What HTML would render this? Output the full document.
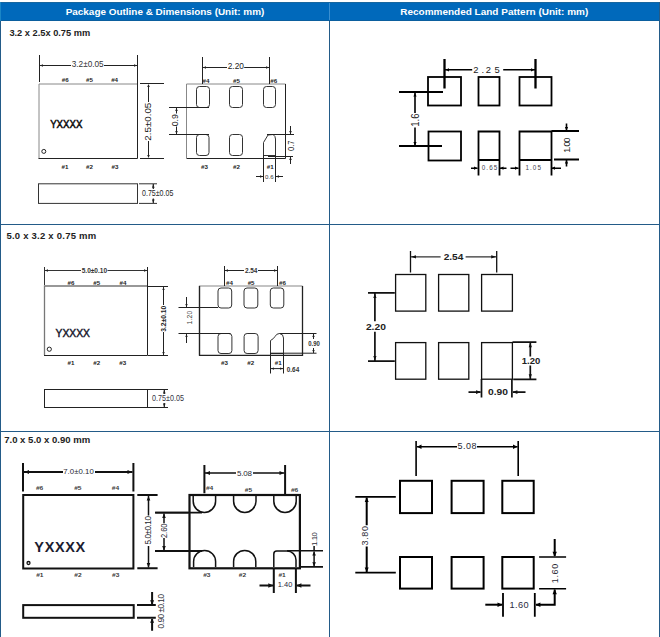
<!DOCTYPE html>
<html><head><meta charset="utf-8">
<style>
html,body{margin:0;padding:0;background:#fff;}
body{width:660px;height:637px;overflow:hidden;position:relative;font-family:"Liberation Sans",sans-serif;}
svg{position:absolute;left:0;top:0;}
.hd{font-family:"Liberation Sans",sans-serif;font-weight:bold;font-size:9.5px;fill:#fff;}
.ttl{font-family:"Liberation Sans",sans-serif;font-weight:bold;font-size:9.5px;fill:#222;}
.t{font-family:"Liberation Sans",sans-serif;font-size:8px;fill:#333;}
.s{font-family:"Liberation Sans",sans-serif;font-size:6.2px;font-weight:bold;fill:#222;}
</style></head><body>
<svg width="660" height="637" viewBox="0 0 660 637">
<!-- table frame -->
<rect x="0" y="2" width="660" height="19" fill="#0069bb"/>
<rect x="0" y="2" width="660" height="1" fill="#1767a0"/>
<rect x="0" y="20" width="660" height="1" fill="#0b5f9e"/>
<g stroke="#235b88" stroke-width="1" fill="none">
<line x1="0.5" y1="21" x2="0.5" y2="637"/>
<line x1="0.5" y1="2" x2="0.5" y2="21" stroke="#1b86c6"/>
<line x1="659.5" y1="2" x2="659.5" y2="637"/>
<line x1="329.5" y1="21" x2="329.5" y2="637"/>
<line x1="0" y1="224.5" x2="660" y2="224.5"/>
<line x1="0" y1="431.5" x2="660" y2="431.5"/>
</g>
<line x1="329.5" y1="3" x2="329.5" y2="20" stroke="#3b8fd0" stroke-width="1"/>
<text class="hd" x="165" y="14.8" text-anchor="middle" textLength="198.6" lengthAdjust="spacingAndGlyphs">Package Outline &amp; Dimensions (Unit: mm)</text>
<text class="hd" x="494.3" y="14.8" text-anchor="middle" textLength="188" lengthAdjust="spacingAndGlyphs">Recommended Land Pattern (Unit: mm)</text>

<text class="ttl" x="9.4" y="36" textLength="80.8" lengthAdjust="spacingAndGlyphs">3.2 x 2.5x 0.75 mm</text>
<text class="ttl" x="6.4" y="239" textLength="89.8" lengthAdjust="spacing">5.0 x 3.2 x 0.75 mm</text>
<text class="ttl" x="4.2" y="443" textLength="86" lengthAdjust="spacingAndGlyphs">7.0 x 5.0 x 0.90 mm</text>

<!-- ===== Row 1 left ===== -->
<g fill="none" stroke-width="1">
<path d="M137.5 84H39V158.5" stroke="#888"/>
<path d="M38.5 158.5H137.5V55" stroke="#222"/>
<path d="M39.5 55V82" stroke="#222"/>
<path d="M40 65.5H71M104 65.5H137" stroke="#222"/>
<path d="M140 83.5H164M140 158.5H164" stroke="#222"/>
<path d="M148.5 85V102M148.5 141V157" stroke="#222"/>
<circle cx="43.8" cy="151.4" r="2" stroke="#222"/>
</g>
<g fill="#222">
<path d="M40 65.5l3 -1.3v2.6z M137 65.5l-3 -1.3v2.6z M148.5 84l-1.3 3h2.6z M148.5 158l-1.3 -3h2.6z"/>
</g>
<text class="t" x="87.7" y="66.8" text-anchor="middle" style="font-size:9px" textLength="32" lengthAdjust="spacingAndGlyphs">3.2±0.05</text>
<text class="t" transform="translate(151.2 121.7) rotate(-90)" text-anchor="middle" style="font-size:9.4px;fill:#222" textLength="38" lengthAdjust="spacingAndGlyphs">2.5±0.05</text>
<text x="66.3" y="127.6" text-anchor="middle" style="font-size:10.3px;fill:#111;stroke:#111;stroke-width:0.5;font-family:'Liberation Sans'" textLength="32.3" lengthAdjust="spacingAndGlyphs">YXXXX</text>
<g class="s" text-anchor="middle">
<text x="65.3" y="82.1">#6</text><text x="89.4" y="82.1">#5</text><text x="114.6" y="82.1">#4</text>
<text x="65" y="168.8">#1</text><text x="89.4" y="168.8">#2</text><text x="114.9" y="168.8">#3</text>
</g>
<!-- side view -->
<g fill="none" stroke-width="1">
<rect x="38.5" y="183.8" width="99" height="19.6" stroke="#333"/>
<path d="M139 183.8H157M139 203.4H157" stroke="#333"/>
<path d="M153.3 184V189M153.3 198.5V203" stroke="#222" stroke-width="1.2"/>
</g>
<path d="M153.3 184.2l-1.3 3.5h2.6z M153.3 203l-1.3 -3.5h2.6z" fill="#222"/>
<text class="t" x="157.7" y="196" text-anchor="middle" style="font-size:8.2px;fill:#1e1e1e" textLength="31.2" lengthAdjust="spacingAndGlyphs">0.75±0.05</text>

<!-- ===== Row 1 pad view ===== -->
<g fill="none" stroke-width="1">
<path d="M186.5 158V84H285.5" stroke="#888"/>
<path d="M186.5 158.5H285.5V84" stroke="#222"/>
<path d="M202.5 57V84M269.5 57V84" stroke="#222"/>
<path d="M203 67.5H227M244.2 67.5H269" stroke="#222"/>
<rect x="196.5" y="86.5" width="13" height="21" rx="3" stroke="#333"/>
<rect x="229.5" y="86.5" width="13" height="21" rx="3" stroke="#333"/>
<rect x="263.5" y="86.5" width="12" height="21" rx="3" stroke="#333"/>
<rect x="196.5" y="134.5" width="12.5" height="21" rx="3" stroke="#333"/>
<rect x="229.5" y="134.5" width="13" height="21" rx="3" stroke="#333"/>
<path d="M263.5 155.5V142.5L268 135L273 134.5Q275.5 136 275.5 139V155.5Z" stroke="#333"/>
<path d="M169 107.5H209M169 134.5H209" stroke="#222"/>
<path d="M176.5 108V113.5M176.5 126.5V134" stroke="#222"/>
<path d="M267 134.5H294M268 156.5H293" stroke="#222"/>
<path d="M290.5 126V134M290.5 157V164" stroke="#222"/>
<path d="M263.5 155V182M275.5 155V182" stroke="#222"/>
<path d="M256 176.5H263M276 176.5H283" stroke="#222"/>
</g>
<g fill="#222">
<path d="M203 67.5l3 -1.3v2.6z M269 67.5l-3 -1.3v2.6z"/>
<path d="M176.5 108l-1.3 3h2.6z M176.5 134l-1.3 -3h2.6z"/>
<path d="M290.5 134l-1.3 -3h2.6z M290.5 157l-1.3 3h2.6z"/>
<path d="M263 176.5l-3 -1.3v2.6z M276 176.5l3 -1.3v2.6z"/>
</g>
<text class="t" x="235.8" y="68.9" text-anchor="middle" style="font-size:9.7px;fill:#1a1a1a" textLength="16.2" lengthAdjust="spacingAndGlyphs">2.20</text>
<text class="t" transform="translate(178.4 120.3) rotate(-90)" text-anchor="middle" style="font-size:8.2px;fill:#222" textLength="12" lengthAdjust="spacingAndGlyphs">0.9</text>
<text class="t" transform="translate(294.3 145.8) rotate(-90)" text-anchor="middle" style="font-size:8.2px;fill:#222" textLength="10.5" lengthAdjust="spacingAndGlyphs">0.7</text>
<text class="t" x="269.3" y="178.8" text-anchor="middle" style="font-size:6px" textLength="8.5" lengthAdjust="spacingAndGlyphs">0.6</text>
<g class="s" text-anchor="middle">
<text x="206" y="82.5">#4</text><text x="236.5" y="82.5">#5</text><text x="273.8" y="82.5">#6</text>
<text x="204.4" y="168.5">#3</text><text x="236.5" y="168.5">#2</text><text x="270.3" y="168.8">#1</text>
</g>

<!-- ===== Row 1 right ===== -->
<g fill="none" stroke="#000" stroke-width="1.8">
<rect x="428" y="77" width="33" height="28.5"/>
<rect x="478.5" y="77" width="21" height="28.5"/>
<rect x="519.5" y="77" width="32" height="28.5"/>
<rect x="428.5" y="131.5" width="32.5" height="29"/>
<path d="M478.5 175.5V131.5H499.5V175.5M478.5 160H499.5"/>
<path d="M519.5 175.5V131.5H551.5V175.5M519.5 160H551.5"/>
<path d="M444.5 59V88.6M535.5 59V88.6" stroke-width="2.3"/>
<path d="M399 92H443M399 146H442"/>
<path d="M551.5 131H579M554 159.5H579"/>
</g>
<g fill="none" stroke="#000" stroke-width="1.6">
<path d="M445 69.8H472.2M503.2 69.8H535"/>
<path d="M415 92.5V113M415 127.5V146"/>
<path d="M566.5 123.5V130M566.5 160V166.5"/>
<path d="M471 168.2H477.5M500 168.2H506.5M510.5 168.2H518.5M551.5 168.2H561"/>
</g>
<g fill="#000">
<path d="M445.5 69.8l3.5 -1.6v3.2z M534.5 69.8l-3.5 -1.6v3.2z"/>
<path d="M415 93l-1.6 3.5h3.2z M415 145.5l-1.6 -3.5h3.2z"/>
<path d="M566.5 130.5l-1.6 -3.5h3.2z M566.5 160l-1.6 3.5h3.2z"/>
<path d="M477.5 168.2l-3.5 -1.6v3.2z M500 168.2l3.5 -1.6v3.2z M518.5 168.2l-3.5 -1.6v3.2z M551.5 168.2l3.5 -1.6v3.2z"/>
</g>
<text class="t" x="473.2 481.6 485.8 494.6" y="73" style="font-size:9.4px;fill:#1a1a1a">2.25</text>
<text class="t" transform="translate(419.2 120.1) rotate(-90)" text-anchor="middle" style="font-size:10.3px;fill:#1a1a1a" textLength="13.2" lengthAdjust="spacingAndGlyphs">1.6</text>
<text class="t" transform="translate(570.4 152) rotate(-90)" x="-0.8 3.1 5.6 9.5" style="font-size:8.7px;fill:#1a1a1a">1.00</text>
<text class="t" x="489.5" y="169.6" text-anchor="middle" style="font-size:6.3px;fill:#44444f" textLength="15.5" lengthAdjust="spacing">0.65</text>
<text class="t" x="533.2" y="169.6" text-anchor="middle" style="font-size:6.3px;fill:#44444f" textLength="15.4" lengthAdjust="spacing">1.05</text>

<!-- ===== Row 2 left ===== -->
<g fill="none" stroke-width="1">
<path d="M147 286H44.5V355" stroke="#777" stroke-width="1.3"/>
<path d="M44 355.5H147.5V267" stroke="#222"/>
<path d="M44.5 267V285" stroke="#333"/>
<path d="M45 270.5H81M107.5 270.5H147" stroke="#333"/>
<path d="M148 286.5H168M148 355.5H168" stroke="#222"/>
<path d="M163.5 287V305M163.5 332V355" stroke="#222"/>
<circle cx="49.3" cy="349.2" r="2.1" stroke="#222"/>
</g>
<g fill="#222">
<path d="M45 270.5l3 -1.2v2.4z M147 270.5l-3 -1.2v2.4z M163.5 287l-1.2 3h2.4z M163.5 355l-1.2 -3h2.4z"/>
</g>
<text x="94.4" y="272.9" text-anchor="middle" style="font-size:6.3px;font-weight:bold;fill:#333;font-family:'Liberation Sans'" textLength="25.4" lengthAdjust="spacingAndGlyphs">5.0±0.10</text>
<text transform="translate(166.4 318.8) rotate(-90)" text-anchor="middle" style="font-size:6.3px;font-weight:bold;fill:#222;font-family:'Liberation Sans'" textLength="26" lengthAdjust="spacingAndGlyphs">3.2±0.10</text>
<text x="72.7" y="336.7" text-anchor="middle" style="font-size:10.5px;fill:#141428;stroke:#141428;stroke-width:0.45;font-family:'Liberation Sans'" textLength="34.4" lengthAdjust="spacingAndGlyphs">YXXXX</text>
<g class="s2" text-anchor="middle" style="font-size:6.2px;font-weight:bold;fill:#222;font-family:'Liberation Sans'">
<text x="71" y="284.7">#6</text><text x="96.8" y="284.7">#5</text><text x="123" y="284.7">#4</text>
<text x="71" y="364.5">#1</text><text x="96.8" y="364.5">#2</text><text x="122.8" y="364.5">#3</text>
</g>
<g fill="none" stroke-width="1">
<rect x="44.5" y="389.5" width="103" height="18" stroke="#222"/>
<path d="M148 389.5H168M148 407.5H168" stroke="#222"/>
<path d="M164.3 390V394M164.3 403V407" stroke="#222" stroke-width="1.2"/>
</g>
<path d="M164.3 390l-1.3 3.5h2.6z M164.3 407l-1.3 -3.5h2.6z" fill="#222"/>
<text class="t" x="168" y="400.9" text-anchor="middle" style="font-size:8.2px;fill:#33333f" textLength="31.8" lengthAdjust="spacingAndGlyphs">0.75±0.05</text>

<!-- ===== Row 2 pad view ===== -->
<g fill="none" stroke-width="1">
<path d="M199.5 355V286H302.5" stroke="#888" stroke-width="1.2"/>
<path d="M199.5 286V355.3H302.5V286" stroke="#222" stroke-width="1.3"/>
<path d="M224.5 266V286M277.5 266V286" stroke="#222"/>
<path d="M225 270.5H244M258 270.5H277" stroke="#222"/>
<rect x="218" y="288" width="13.7" height="20" rx="3" stroke="#333"/>
<rect x="244" y="288" width="13.8" height="20" rx="3" stroke="#333"/>
<rect x="270.3" y="288" width="13.5" height="20" rx="3" stroke="#333"/>
<rect x="218" y="333.5" width="13.9" height="20" rx="3" stroke="#333"/>
<rect x="244.1" y="333.5" width="14" height="20" rx="3" stroke="#333"/>
<path d="M270.5 353.5V340.5Q273.5 339 275 336.5Q276.5 333.5 279.5 333.5Q283.5 334 283.5 338V353.5Z" stroke="#333"/>
<path d="M178.5 307.5H218M178.5 333.5H230.5" stroke="#222"/>
<path d="M186.5 297V307M186.5 334V343" stroke="#222"/>
<path d="M279.5 333.5H316.5M270 353.2H316.5" stroke="#222"/>
<path d="M313.5 334V339M313.5 348V353" stroke="#222"/>
<path d="M270.5 353V373.5M283.5 353V373.5" stroke="#222"/>
<path d="M271 368.6H283" stroke="#222"/>
</g>
<g fill="#222">
<path d="M225 270.5l3 -1.2v2.4z M277 270.5l-3 -1.2v2.4z"/>
<path d="M186.5 307l-1.2 -3h2.4z M186.5 334l-1.2 3h2.4z"/>
<path d="M313.5 334l-1.2 3h2.4z M313.5 353l-1.2 -3h2.4z"/>
<path d="M271 368.6l3 -1.2v2.4z M283 368.6l-3 -1.2v2.4z"/>
</g>
<text x="251.2" y="272.8" text-anchor="middle" style="font-size:6.3px;font-weight:bold;fill:#333;font-family:'Liberation Sans'" textLength="12.5" lengthAdjust="spacingAndGlyphs">2.54</text>
<text class="t" transform="translate(191.6 317.7) rotate(-90)" text-anchor="middle" style="font-size:6.8px;fill:#3a3a3a" textLength="13.8" lengthAdjust="spacing">1.20</text>
<text x="314.1" y="345.9" text-anchor="middle" style="font-size:6.3px;font-weight:bold;fill:#333;font-family:'Liberation Sans'" textLength="11.6" lengthAdjust="spacingAndGlyphs">0.90</text>
<text x="293" y="371.9" text-anchor="middle" style="font-size:6.8px;font-weight:bold;fill:#333;font-family:'Liberation Sans'" textLength="12.4" lengthAdjust="spacingAndGlyphs">0.64</text>
<g text-anchor="middle" style="font-size:6.2px;font-weight:bold;fill:#222;font-family:'Liberation Sans'">
<text x="229.4" y="285.3">#4</text><text x="251.1" y="285.3">#5</text><text x="282.5" y="285.3">#6</text>
<text x="224.5" y="364.6">#3</text><text x="250.7" y="364.6">#2</text><text x="278.2" y="364.6">#1</text>
</g>

<!-- ===== Row 2 right ===== -->
<g fill="none" stroke="#111" stroke-width="1.3">
<rect x="395.6" y="274.5" width="30.2" height="36.6"/>
<rect x="438.6" y="274.5" width="30.2" height="36.6"/>
<rect x="481.6" y="274.5" width="30.8" height="36.6"/>
<rect x="395.6" y="342.6" width="30.2" height="36.6"/>
<rect x="438.6" y="342.6" width="30.2" height="36.6"/>
<rect x="481.6" y="342.6" width="30.8" height="36.6"/>
<path d="M410.5 251V272.5M496.7 251V272.5"/>
</g>
<g fill="none" stroke="#111" stroke-width="1.7">
<path d="M368 292.9H394.8M368 361.1H394.8"/>
<path d="M374.9 293V321.2M374.9 331.8V361"/>
<path d="M512.5 342.2H536.4M513.2 379.4H536.4"/>
<path d="M530.3 343V356.5M530.3 365.5V379"/>
<path d="M481.5 379V397.5M511.9 379V397.5"/>
<path d="M468.5 392.1H480.5M513 392.1H525.5"/>
</g>
<g fill="none" stroke="#333" stroke-width="1.2">
<path d="M411 256.8H440.6M465.6 256.8H496"/>
</g>
<g fill="#111">
<path d="M411 256.8l5 -1.6v3.2z M496.2 256.8l-5 -1.6v3.2z"/>
<path d="M374.9 293.5l-1.6 4.5h3.2z M374.9 360.5l-1.6 -4.5h3.2z"/>
<path d="M530.3 342.8l-1.6 4.5h3.2z M530.3 378.8l-1.6 -4.5h3.2z"/>
<path d="M481 392.1l-5 -1.8v3.6z M512.4 392.1l5 -1.8v3.6z"/>
</g>
<g style="font-weight:bold;fill:#222;font-family:'Liberation Sans'" text-anchor="middle">
<text x="453.5" y="260.2" style="font-size:8.4px" textLength="19.7" lengthAdjust="spacingAndGlyphs">2.54</text>
<text x="375.9" y="330.1" style="font-size:8.6px" textLength="20" lengthAdjust="spacingAndGlyphs">2.20</text>
<text x="531" y="363.8" style="font-size:8.4px" textLength="18.5" lengthAdjust="spacingAndGlyphs">1.20</text>
<text x="498" y="394.8" style="font-size:8.4px" textLength="20" lengthAdjust="spacingAndGlyphs">0.90</text>
</g>

<!-- ===== Row 3 left ===== -->
<g fill="none" stroke="#111">
<rect x="23.2" y="495" width="110.2" height="73.5" stroke-width="2"/>
<path d="M23 463V491.4M133.4 463V491.4" stroke-width="2"/>
<path d="M137.3 495H157.6M137.3 568.2H157.6" stroke-width="2"/>
<path d="M155.3 512.7H188.7M155.3 551H188.7" stroke-width="1.8"/>
<path d="M24 472H63M95 472H132.5" stroke-width="1.9"/>
<path d="M148.5 496V515.5M148.5 546V567.5" stroke-width="1.5"/>
<path d="M164 513.5V523.2M164 538.1V550.5" stroke-width="1.5"/>
<rect x="23.2" y="605.1" width="110.5" height="12.7" stroke-width="2"/>
<path d="M137 605.1H155.8M137 617.8H155.8" stroke-width="2"/>
<path d="M152.1 592V604M152.1 619V630.7" stroke-width="2"/>
<circle cx="28.5" cy="563" r="1.5" stroke-width="1.3"/>
</g>
<g fill="#111">
<path d="M24.5 472l4.5 -2v4z M132 472l-4.5 -2v4z"/>
<path d="M148.5 496l-1.8 4.5h3.6z M148.5 567.5l-1.8 -4.5h3.6z"/>
<path d="M164 513.5l-1.8 4.5h3.6z M164 550.5l-1.8 -4.5h3.6z"/>
<path d="M152.1 604.8l-2 -4.5h4z M152.1 618.2l-2 4.5h4z"/>
</g>
<text x="78.5" y="474.2" text-anchor="middle" style="font-size:7.8px;fill:#2a2a35;font-family:'Liberation Sans'" textLength="30.6" lengthAdjust="spacing">7.0±0.10</text>
<text transform="translate(150.8 530.2) rotate(-90)" text-anchor="middle" style="font-size:8.2px;fill:#26262e;font-family:'Liberation Sans'" textLength="28.4" lengthAdjust="spacing">5.0±0.10</text>
<text transform="translate(167.2 530.8) rotate(-90)" text-anchor="middle" style="font-size:8.8px;fill:#2a2a36;font-family:'Liberation Sans'" textLength="14.6" lengthAdjust="spacingAndGlyphs">2.60</text>
<text transform="translate(163.6 611.2) rotate(-90)" text-anchor="middle" style="font-size:8.4px;fill:#2e2e3a;font-family:'Liberation Sans'" textLength="34.5" lengthAdjust="spacing">0.90 ±0.10</text>
<text x="59.8" y="552.1" text-anchor="middle" style="font-size:14.5px;font-weight:bold;fill:#1c1c30;font-family:'Liberation Sans'" textLength="50.9" lengthAdjust="spacing">YXXXX</text>
<g text-anchor="middle" style="font-size:6.6px;font-weight:bold;fill:#3a3a3a;font-family:'Liberation Sans'">
<text transform="translate(39.6 489.5) scale(1 0.78)">#6</text><text transform="translate(77.8 489.5) scale(1 0.78)">#5</text><text transform="translate(115.5 489.5) scale(1 0.78)">#4</text>
<text transform="translate(39.8 576.7) scale(1 0.78)">#1</text><text transform="translate(78 576.7) scale(1 0.78)">#2</text><text transform="translate(115.7 576.7) scale(1 0.78)">#3</text>
</g>

<!-- ===== Row 3 pad view ===== -->
<g fill="none" stroke="#111">
<rect x="189.5" y="495" width="110.4" height="73.3" stroke-width="2.2"/>
<path d="M204.4 465V493.3M285.1 465V494" stroke-width="2"/>
<path d="M205 472.9H236M253 472.9H284.5" stroke-width="1.5"/>
<path d="M155 512.7H202M155 551H202" stroke-width="1.8"/>
<path d="M193.2 496V501.2A11.2 11.2 0 0 0 215.6 501.2V496" stroke-width="1.5"/>
<path d="M233.6 496V501.2A11.2 11.2 0 0 0 256 501.2V496" stroke-width="1.5"/>
<path d="M273.8 496V501.2A11.2 11.2 0 0 0 296.2 501.2V496" stroke-width="1.5"/>
<path d="M193.6 567V561.5A11 11 0 0 1 215.6 561.5V567" stroke-width="1.5"/>
<path d="M233.6 567V561.5A11 11 0 0 1 255.8 561.5V567" stroke-width="1.5"/>
<path d="M273.8 567V554A3 3 0 0 1 276.8 551H287A9 9 0 0 1 296 560V567" stroke-width="1.5"/>
<path d="M287 550.8H323M300 566.9H323" stroke-width="1.6"/>
<path d="M314.1 551.5V566.5M314.1 551V546" stroke-width="1.5"/>
<path d="M273.8 569V593.1M295.9 569V593.1" stroke-width="2"/>
<path d="M259.5 585.5H273M296.7 585.5H310.5" stroke-width="2"/>
</g>
<g fill="#111">
<path d="M205.5 472.9l4.5 -2v4z M284 472.9l-4.5 -2v4z"/>
<path d="M314.1 551.5l-1.8 4h3.6z M314.1 566.3l-1.8 -4h3.6z"/>
<path d="M273.3 585.5l-5 -2.2v4.4z M296.4 585.5l5 -2.2v4.4z"/>
</g>
<text x="244.5" y="476" text-anchor="middle" style="font-size:8px;fill:#2a2a35;font-family:'Liberation Sans'" textLength="14.8" lengthAdjust="spacing">5.08</text>
<text transform="translate(317.2 539) rotate(-90)" text-anchor="middle" style="font-size:7.8px;fill:#2e2e3a;font-family:'Liberation Sans'" textLength="13.8" lengthAdjust="spacing">1.10</text>
<text x="285" y="586.8" text-anchor="middle" style="font-size:7.5px;fill:#2a2a40;font-family:'Liberation Sans'" textLength="14.6" lengthAdjust="spacing">1.40</text>
<g text-anchor="middle" style="font-size:6.6px;font-weight:bold;fill:#3a3a3a;font-family:'Liberation Sans'">
<text transform="translate(209.6 489.7) scale(1 0.78)">#4</text><text transform="translate(248.5 491.8) scale(1 0.78)">#5</text><text transform="translate(294.6 491.6) scale(1 0.78)">#6</text>
<text transform="translate(206.8 576.6) scale(1 0.78)">#3</text><text transform="translate(242.5 576.6) scale(1 0.78)">#2</text><text transform="translate(282.1 576.6) scale(1 0.78)">#1</text>
</g>

<!-- ===== Row 3 right ===== -->
<g fill="none" stroke="#000">
<rect x="400" y="480.8" width="32" height="32.3" stroke-width="2"/>
<rect x="451.6" y="480.8" width="32" height="32.3" stroke-width="2"/>
<rect x="502.3" y="480.8" width="31.4" height="32.3" stroke-width="2"/>
<rect x="400" y="557" width="32" height="31.6" stroke-width="2"/>
<rect x="451.6" y="557" width="32" height="31.6" stroke-width="2"/>
<rect x="502.3" y="557" width="31.4" height="31.6" stroke-width="2"/>
<path d="M416.1 441.1V475.9M518.2 441.1V475.9" stroke-width="1.6"/>
<path d="M417 446.8H457M477 446.8H517.5" stroke-width="1.5"/>
<path d="M355.3 496.9H395.8M355.3 572.6H395.8" stroke-width="1.6"/>
<path d="M366.7 497.5V525.3M366.7 546.5V572" stroke-width="2"/>
<path d="M539.1 557H566.1M539.1 588.8H566.1" stroke-width="1.6"/>
<path d="M554.7 539.1V556M554.7 589.5V604.7H536" stroke-width="2"/>
<path d="M503 592.9V616.7M534.8 592.9V616.7" stroke-width="1.8"/>
<path d="M485.3 604.7H502" stroke-width="2"/>
</g>
<g fill="#000">
<path d="M417 446.8l4.5 -2.2v4.4z M517.5 446.8l-4.5 -2.2v4.4z"/>
<path d="M366.7 497.5l-2 4.5h4z M366.7 572l-2 -4.5h4z"/>
<path d="M554.7 556.8l-2.2 -5h4.4z M554.7 589.2l-2.2 5h4.4z"/>
<path d="M502.5 604.7l-5 -2.2v4.4z M535.4 604.7l5 -2.2v4.4z"/>
</g>
<text x="467" y="449.2" text-anchor="middle" style="font-size:9px;fill:#2a2a35;font-family:'Liberation Sans'" textLength="18.8" lengthAdjust="spacing">5.08</text>
<text transform="translate(368.4 535.7) rotate(-90)" text-anchor="middle" style="font-size:9px;fill:#2a2a35;font-family:'Liberation Sans'" textLength="19.4" lengthAdjust="spacing">3.80</text>
<text transform="translate(557.6 573.5) rotate(-90)" text-anchor="middle" style="font-size:9px;fill:#2a2a35;font-family:'Liberation Sans'" textLength="19.7" lengthAdjust="spacing">1.60</text>
<text x="519.1" y="608" text-anchor="middle" style="font-size:9.2px;fill:#2a2a40;font-family:'Liberation Sans'" textLength="19.3" lengthAdjust="spacing">1.60</text>
</svg>
</body></html>
